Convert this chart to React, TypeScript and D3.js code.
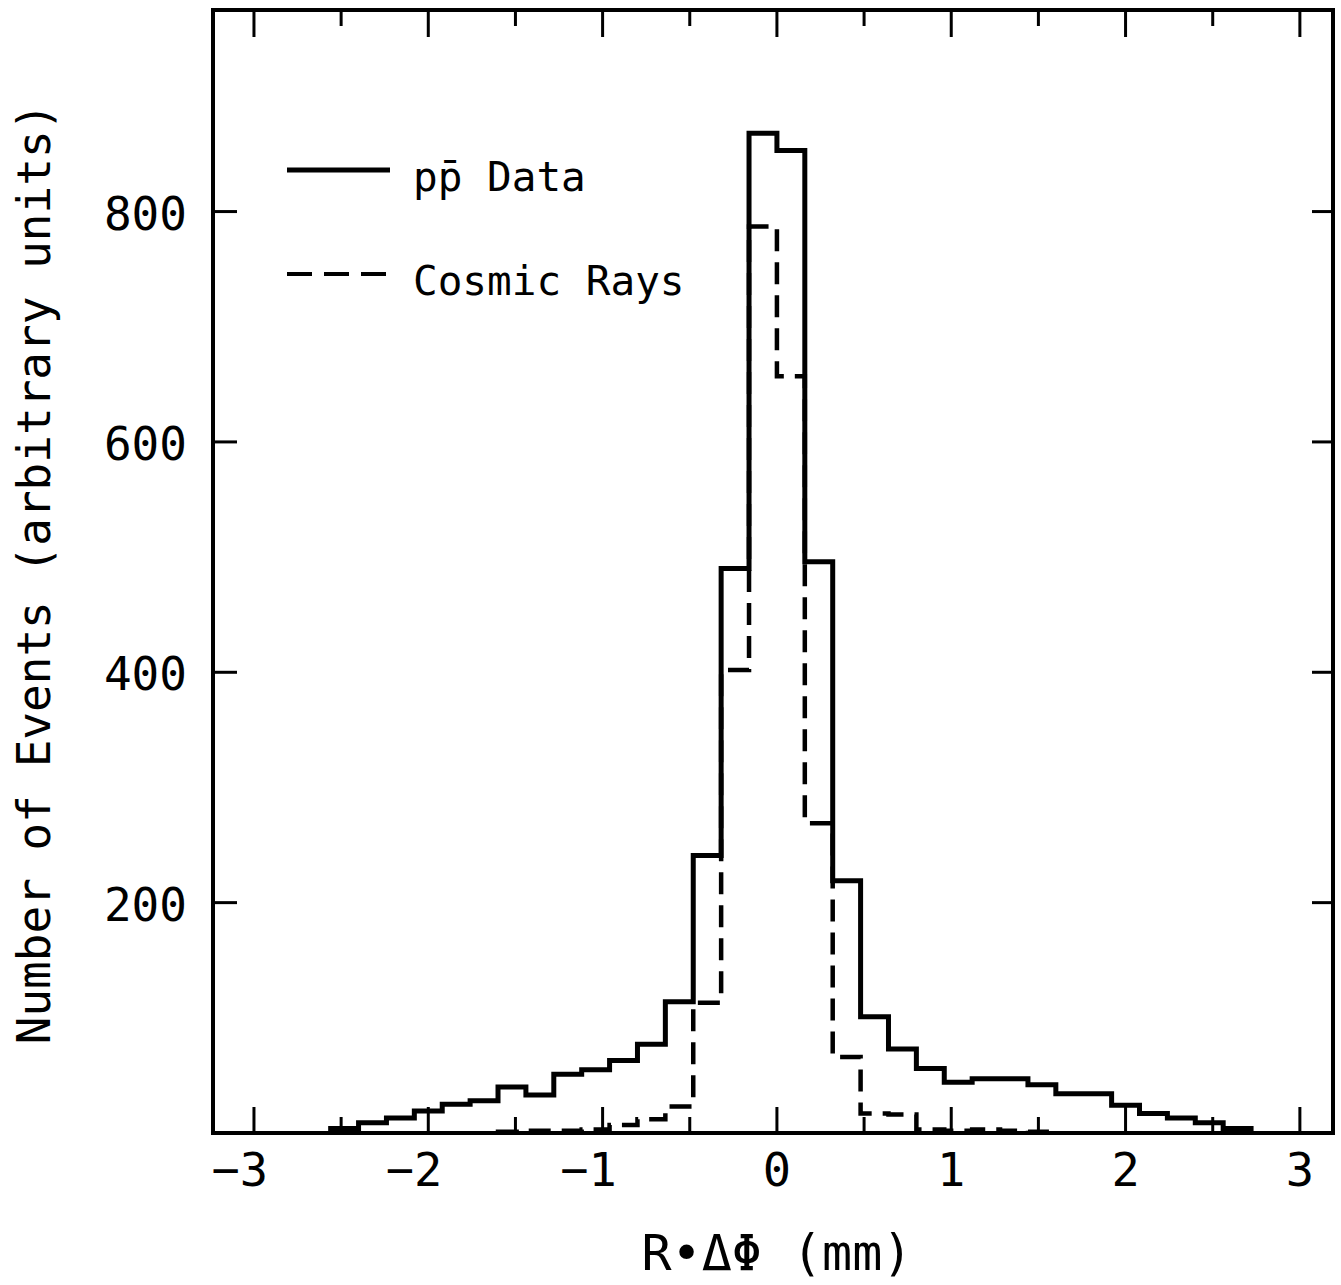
import React from "react";
import * as d3 from "d3";

// histogram bins: bin k covers [k * binWidth, (k + 1) * binWidth] in mm
const binWidth = 0.16;

// p pbar data, bins k = -16 .. 16
const ppStartBin = -16;
const ppCounts = [
  4, 9, 13, 19, 25, 28, 40, 33, 51, 55, 63, 77, 114, 241, 490, 868,
  853, 496, 219, 101, 73, 56, 44, 47, 47, 42, 34, 34, 24, 17, 13, 9, 4,
];

// cosmic rays, bins k = -10 .. 9
const cosmicStartBin = -10;
const cosmicCounts = [
  1, 2, 2, 3, 7, 12, 23, 113, 402, 787, 657, 269, 66, 17, 16, 3, 2, 3, 2, 1,
];

const xMajorTicks = [-3, -2, -1, 0, 1, 2, 3];
const xMinorTicks = [-2.5, -1.5, -0.5, 0.5, 1.5, 2.5];
const yTicks = [200, 400, 600, 800];

const legendItems = [
  { label: "pp\u0304 Data", dash: null },
  { label: "Cosmic Rays", dash: "25 12" },
];

const width = 1341;
const height = 1285;
const frame = { left: 213, top: 10, right: 1333, bottom: 1133 };
const font = "'DejaVu Sans Mono', monospace";

const xScale = d3.scaleLinear().domain([-3.235, 3.19]).range([frame.left, frame.right]);
const yScale = d3.scaleLinear().domain([0, 975]).range([frame.bottom, frame.top]);

const stepLine = d3
  .line<[number, number]>()
  .x((d) => xScale(d[0]))
  .y((d) => yScale(d[1]))
  .curve(d3.curveStepAfter);

function histPath(startBin: number, counts: number[]) {
  const pts: [number, number][] = [[startBin * binWidth, 0]];
  counts.forEach((c, i) => pts.push([(startBin + i) * binWidth, c]));
  pts.push([(startBin + counts.length) * binWidth, 0]);
  return stepLine(pts) || "";
}

const fmt = (v: number) => (v < 0 ? "\u2212" + Math.abs(v) : String(v));

export default function App() {
  const tickFs = 47;
  const cw = tickFs * 0.602;

  return (
    <div style={{ position: "absolute", left: 0, top: 0, background: "#fff" }}>
      <svg width={width} height={height} style={{ display: "block" }}>
        <rect x={0} y={0} width={width} height={height} fill="#fff" />

        {/* histograms */}
        <path
          d={histPath(cosmicStartBin, cosmicCounts)}
          fill="none"
          stroke="#000"
          strokeWidth={4.5}
          strokeDasharray="22 11"
        />
        <path d={histPath(ppStartBin, ppCounts)} fill="none" stroke="#000" strokeWidth={5} />

        {/* frame */}
        <rect
          x={frame.left}
          y={frame.top}
          width={frame.right - frame.left}
          height={frame.bottom - frame.top}
          fill="none"
          stroke="#000"
          strokeWidth={4}
        />

        {/* x ticks, bottom and top */}
        {xMajorTicks.map((t) => (
          <g key={"xM" + t}>
            <line x1={xScale(t)} x2={xScale(t)} y1={frame.bottom} y2={frame.bottom - 26} stroke="#000" strokeWidth={3} />
            <line x1={xScale(t)} x2={xScale(t)} y1={frame.top} y2={frame.top + 27} stroke="#000" strokeWidth={3} />
            <text
              x={xScale(t) + cw / 2}
              y={1186}
              textAnchor="end"
              fontFamily={font}
              fontSize={tickFs}
            >
              {fmt(t)}
            </text>
          </g>
        ))}
        {xMinorTicks.map((t) => (
          <g key={"xm" + t}>
            <line x1={xScale(t)} x2={xScale(t)} y1={frame.bottom} y2={frame.bottom - 16} stroke="#000" strokeWidth={3} />
            <line x1={xScale(t)} x2={xScale(t)} y1={frame.top} y2={frame.top + 16} stroke="#000" strokeWidth={3} />
          </g>
        ))}

        {/* y ticks, left and right */}
        {yTicks.map((t) => (
          <g key={"y" + t}>
            <line x1={frame.left} x2={frame.left + 24} y1={yScale(t)} y2={yScale(t)} stroke="#000" strokeWidth={3} />
            <line x1={frame.right} x2={frame.right - 21} y1={yScale(t)} y2={yScale(t)} stroke="#000" strokeWidth={3} />
            <text
              x={187}
              y={yScale(t) + 18}
              textAnchor="end"
              fontFamily={font}
              fontSize={46}
            >
              {t}
            </text>
          </g>
        ))}

        {/* legend */}
        {legendItems.map((item, i) => {
          const ly = 170 + i * 104;
          return (
            <g key={item.label}>
              <line
                x1={287}
                x2={390}
                y1={ly}
                y2={ly}
                stroke="#000"
                strokeWidth={item.dash ? 4 : 5}
                strokeDasharray={item.dash || undefined}
              />
              <text x={413} y={ly + 21} fontFamily={font} fontSize={41}>
                {item.label}
              </text>
            </g>
          );
        })}

        {/* axis titles */}
        <text
          x={xScale(0)}
          y={1270}
          textAnchor="middle"
          fontFamily={font}
          fontSize={50}
        >
          R{"\u2022"}{"\u0394\u03A6"} (mm)
        </text>
        <text
          transform={`translate(50, ${(frame.top + frame.bottom) / 2 + 2}) rotate(-90)`}
          textAnchor="middle"
          fontFamily={font}
          fontSize={46}
        >
          Number of Events (arbitrary units)
        </text>
      </svg>
    </div>
  );
}
